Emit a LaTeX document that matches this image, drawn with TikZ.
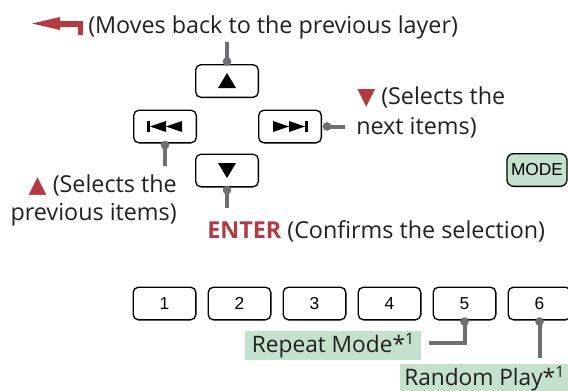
\documentclass[tikz,border=0pt]{standalone}
\usepackage{fontspec}
\setmainfont{Open Sans}
\newfontfamily\keyfont{Liberation Sans}
\newfontfamily\glyphfont{DejaVu Sans}
\usepackage{tikz}
\usetikzlibrary{positioning}
\definecolor{navred}{RGB}{178,58,66}
\definecolor{leadgray}{RGB}{110,111,114}
\definecolor{modegreen}{RGB}{196,225,205}
\definecolor{inkgray}{RGB}{35,31,32}

\begin{document}
\begin{tikzpicture}[x=0.75pt,y=0.75pt,yscale=-1,xscale=1,
  keybox/.style={draw=black,line width=1pt,rounded corners=4pt,minimum width=47pt,minimum height=24.5pt,inner sep=0pt,font=\keyfont\fontsize{13}{13}\selectfont},
  leadline/.style={draw=leadgray,line width=3pt},
  leaddot/.style={circle,fill=leadgray,inner sep=0pt,minimum size=6.5pt},
  note/.style={inner sep=0pt,text=inkgray,font=\fontsize{17.5}{21}\selectfont},
  tag/.style={fill=modegreen,inner xsep=4pt,inner ysep=0pt,minimum height=21.75pt,text=inkgray,font=\fontsize{17}{21}\selectfont}]
\useasboundingbox (0,0) rectangle (568,390);

%Back arrow
\fill[navred] (32,23.5) -- (60,17) -- (60,21) -- (83,21) -- (83,35) -- (78,35) -- (78,27) -- (60,27) -- (60,30) -- cycle;
\node[note,anchor=base west] (backNote) at (88,33) {(Moves back to the previous layer)};

%Cursor keys
\node[keybox] (up) at (227,81) {};
\node[keybox] (prev) at (165,126.5) {};
\node[keybox] (next) at (290,126.5) {};
\node[keybox] (down) at (227,170.5) {};
\fill (up.center) ++(-9,7) -- ++(18,0) -- ++(-9,-15) -- cycle;
\fill (down.center) ++(-9,-7.5) -- ++(18,0) -- ++(-9,15) -- cycle;
\fill ([shift={(-18,-5.5)}]prev.center) rectangle ++(3,11);
\fill (prev.center) ++(-15,0) -- ++(16,-5.5) -- ++(0,11) -- cycle;
\fill (prev.center) ++(1,0) -- ++(16,-5.5) -- ++(0,11) -- cycle;
\fill ([shift={(15,-5.5)}]next.center) rectangle ++(3,11);
\fill (next.center) ++(15,0) -- ++(-16,-5.5) -- ++(0,11) -- cycle;
\fill (next.center) ++(-1,0) -- ++(-16,-5.5) -- ++(0,11) -- cycle;

%Leads of the cursor keys
\coordinate (upEnd) at (227,42);
\coordinate (prevEnd) at (165,166);
\coordinate (nextEnd) at (345,126.5);
\coordinate (downEnd) at (227,208);
\node[leaddot] (upDot) at ([shift={(0,-2.5)}]up.north) {};
\node[leaddot] (prevDot) at ([shift={(0,1.5)}]prev.south) {};
\node[leaddot] (nextDot) at ([shift={(5,0)}]next.east) {};
\node[leaddot] (downDot) at ([shift={(0,2.5)}]down.south) {};
\draw[leadline] (upDot.center) -- (upEnd);
\draw[leadline] (prevDot.center) -- (prevEnd);
\draw[leadline] (nextDot.center) -- (nextEnd);
\draw[leadline] (downDot.center) -- (downEnd);

%Notes
\node[note,anchor=base west] (nextNoteA) at (357,104) {\textcolor{navred}{\glyphfont ▼} (Selects the};
\node[note,anchor=base west] (nextNoteB) at (356,134) {next items)};
\node[note,anchor=base east] (prevNoteA) at (177,192) {\textcolor{navred}{\glyphfont ▲} (Selects the};
\node[note,anchor=base east] (prevNoteB) at (177,220) {previous items)};
\node[note,anchor=base west] (enterNote) at (207,238) {\textcolor{navred}{\bfseries ENTER} (Confirms the selection)};

%MODE key
\node[keybox,fill=modegreen,rounded corners=5pt,minimum width=45pt] (mode) at (537,170) {MODE};

%Number keys
\node[keybox] (k1) at (164.5,303.5) {1};
\node[keybox] (k2) at (239.5,303.5) {2};
\node[keybox] (k3) at (314.5,303.5) {3};
\node[keybox] (k4) at (389.5,303.5) {4};
\node[keybox] (k5) at (464.5,303.5) {5};
\node[keybox] (k6) at (539.5,303.5) {6};

%Tags of keys 5 and 6
\node[tag,anchor=west,inner xsep=5pt] (repeatTag) at (245,345.5) {Repeat Mode*\textsuperscript{1}};
\node[tag,anchor=west,inner xsep=3pt] (randomTag) at (400,378.5) {Random Play*\textsuperscript{1}};
\coordinate (k5End) at (429,343);
\coordinate (k6End) at (539.5,358);
\node[leaddot] (k5Dot) at ([shift={(0,1)}]k5.south) {};
\node[leaddot] (k6Dot) at ([shift={(0,1)}]k6.south) {};
\draw[leadline] (k5Dot.center) |- (k5End);
\draw[leadline] (k6Dot.center) -- (k6End);

\end{tikzpicture}
\end{document}
